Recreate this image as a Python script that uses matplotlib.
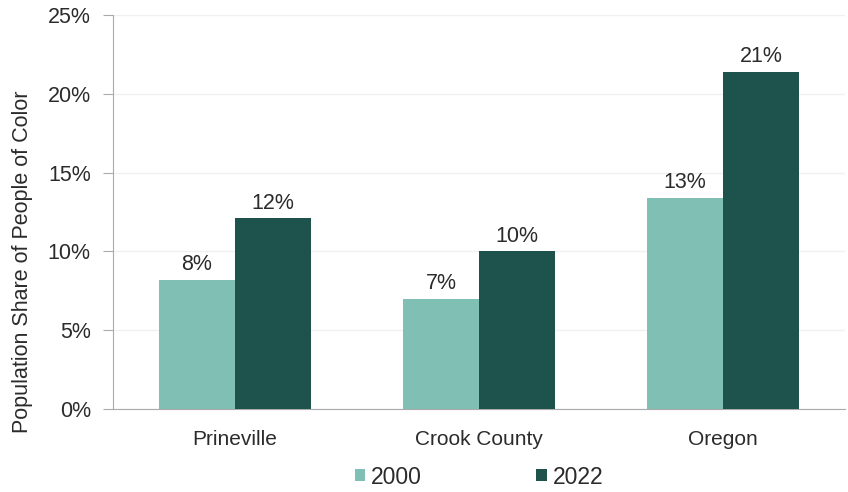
import numpy as np
import matplotlib
matplotlib.use("Agg")
import matplotlib.pyplot as plt
from matplotlib.ticker import FuncFormatter

plt.rcParams['font.family'] = ['Liberation Sans', 'DejaVu Sans']

categories = ['Prineville', 'Crook County', 'Oregon']
years = ['2000', '2022']
share_2000 = [8.2, 7.0, 13.4]
share_2022 = [12.1, 10.0, 21.37]

COLORS = {'2000': '#80bfb4', '2022': '#1e524c'}
TEXT = '#2b2b2b'

fig = plt.figure(figsize=(8.48, 4.92), dpi=100)
ax = fig.add_axes([0.1333, 0.1687, 0.8632, 0.8008])

x = np.arange(len(categories))
width = 0.312
for offset, year, vals in [(-width / 2, '2000', share_2000), (width / 2, '2022', share_2022)]:
    bars = ax.bar(x + offset, vals, width, color=COLORS[year], label=year, zorder=3)
    for b, v in zip(bars, vals):
        ax.text(b.get_x() + b.get_width() / 2, v + 0.62, f"{round(v):.0f}%",
                ha='center', va='baseline', fontsize=15.5, color=TEXT)

ax.set_xlim(-0.5, 2.5)
ax.set_ylim(0, 25)
ax.set_yticks(np.arange(0, 26, 5))
ax.yaxis.set_major_formatter(FuncFormatter(lambda v, _: f"{v:.0f}%"))
ax.set_xticks(x)
ax.set_xticklabels(categories)
ax.grid(axis='y', color='#f0f0f0', linewidth=1, zorder=0)

for side in ['top', 'right']:
    ax.spines[side].set_visible(False)
for side in ['left', 'bottom']:
    ax.spines[side].set_color('#aaaaaa')
ax.tick_params(axis='y', length=7, color='#aaaaaa', labelsize=15.5, labelcolor=TEXT, pad=9)
ax.tick_params(axis='x', length=0, labelsize=15, labelcolor=TEXT, pad=15)
ax.set_ylabel('Population Share of People of Color', fontsize=15.5, color=TEXT)
# label sits a bit below the axes centre in the reference
ax.yaxis.set_label_coords(-0.11, 0.373)

ax.legend(loc='center', bbox_to_anchor=(0.5, -0.1726), ncol=2, frameon=False,
          fontsize=16.5, handlelength=0.45, handleheight=0.45, columnspacing=5.0,
          handletextpad=0.26, labelcolor=TEXT)

fig.savefig('out.png', dpi=100)
